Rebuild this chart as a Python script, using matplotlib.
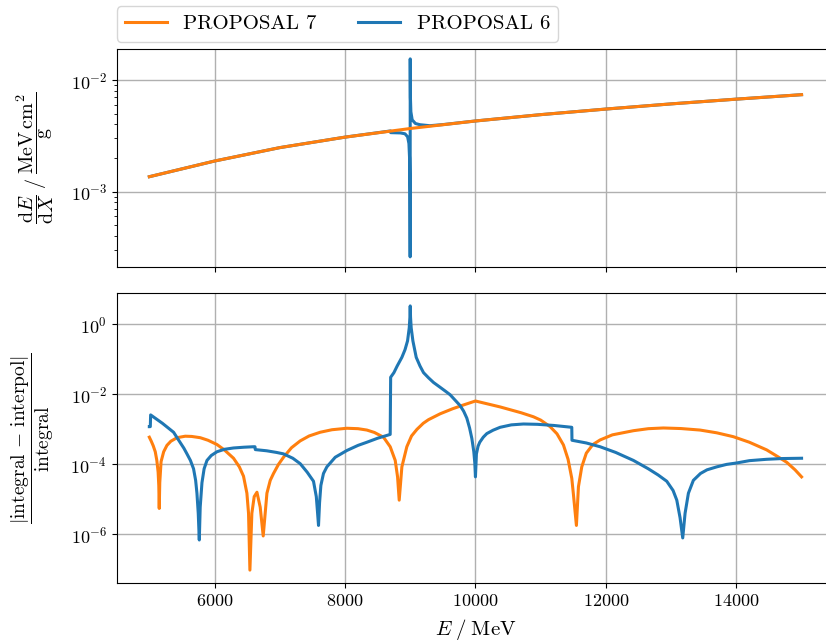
import numpy as np
import matplotlib
matplotlib.use("Agg")
import matplotlib.pyplot as plt
from matplotlib.ticker import NullLocator

plt.rcParams['font.family'] = 'serif'
plt.rcParams['font.serif'] = ['cmr10', 'DejaVu Serif']
plt.rcParams['mathtext.fontset'] = 'cm'
plt.rcParams['axes.formatter.use_mathtext'] = True
plt.rcParams['font.size'] = 13

C7 = '#ff7f0e'
C6 = '#1f77b4'

# energy loss dE/dX, PROPOSAL 7
E_top7 = [5000, 6000, 7000, 8000, 9000, 10000, 11000, 12000, 13000, 14000, 15000]
dedx7 = [1.36e-3, 1.88e-3, 2.48e-3, 3.08e-3, 3.68e-3, 4.30e-3, 4.90e-3, 5.50e-3,
         6.12e-3, 6.75e-3, 7.40e-3]

# energy loss dE/dX, PROPOSAL 6 (glitch at 9000 MeV)
E_top6 = [5000, 6000, 7000, 8000, 8699, 8700, 8850, 8920, 8960, 8980, 8990, 8996,
          8999, 9000, 9003, 9010, 9030, 9080, 9150, 9300, 9500, 10000, 11000,
          12000, 13000, 14000, 15000]
dedx6 = [1.36e-3, 1.88e-3, 2.48e-3, 3.08e-3, 3.50e-3, 3.38e-3, 3.36e-3, 3.30e-3,
         3.10e-3, 2.70e-3, 2.00e-3, 1.00e-3, 2.60e-4, 1.55e-2, 7.00e-3, 5.20e-3,
         4.40e-3, 4.08e-3, 3.98e-3, 3.90e-3, 3.99e-3, 4.30e-3, 4.90e-3, 5.50e-3,
         6.12e-3, 6.75e-3, 7.40e-3]

# relative deviation |integral - interpol| / integral, PROPOSAL 7
E_err7 = [5000, 5030, 5060, 5091, 5115, 5135, 5145, 5152, 5160, 5180, 5220, 5270,
          5330, 5424, 5551, 5650, 5781, 5900, 6037, 6150, 6291, 6380, 6444, 6496,
          6521, 6542, 6572, 6608, 6650, 6700, 6746, 6803, 6854, 6904, 6980, 7057,
          7180, 7313, 7450, 7619, 7800, 8029, 8200, 8335, 8450, 8590, 8693, 8770,
          8806, 8831, 8872, 8948, 9020, 9102, 9200, 9280, 9459, 9650, 9816, 10000,
          10378, 10700, 10889, 11000, 11145, 11250, 11349, 11420, 11477, 11502,
          11548, 11579, 11630, 11700, 11800, 11911, 12100, 12422, 12650, 12881,
          13150, 13443, 13700, 13954, 14200, 14465, 14650, 14772, 14900, 15000]
err7 = [6.0e-4, 4.6e-4, 3.4e-4, 2.3e-4, 1.3e-4, 6.0e-5, 2.5e-5, 5.5e-6, 3.0e-5,
        1.2e-4, 2.3e-4, 3.5e-4, 4.6e-4, 5.8e-4, 6.4e-4, 6.3e-4, 5.8e-4, 4.9e-4,
        3.7e-4, 2.6e-4, 1.5e-4, 8.5e-5, 4.6e-5, 1.5e-5, 4.0e-6, 9.5e-8, 4.0e-6,
        1.2e-5, 1.6e-5, 6.0e-6, 9.0e-7, 1.5e-5, 3.5e-5, 5.5e-5, 1.0e-4, 1.6e-4,
        3.0e-4, 4.7e-4, 6.5e-4, 8.3e-4, 9.8e-4, 1.08e-3, 1.05e-3, 9.6e-4, 8.2e-4,
        6.0e-4, 3.2e-4, 1.3e-4, 4.4e-5, 9.5e-6, 8.5e-5, 3.2e-4, 6.5e-4, 1.0e-3,
        1.5e-3, 1.9e-3, 2.8e-3, 3.9e-3, 5.0e-3, 6.5e-3, 4.4e-3, 3.0e-3, 2.3e-3,
        1.85e-3, 1.2e-3, 7.5e-4, 3.6e-4, 1.4e-4, 4.0e-5, 1.4e-5, 1.8e-6, 2.3e-5,
        8.5e-5, 2.1e-4, 3.7e-4, 5.0e-4, 7.0e-4, 9.2e-4, 1.05e-3, 1.1e-3, 1.06e-3,
        9.6e-4, 8.0e-4, 6.2e-4, 4.3e-4, 2.6e-4, 1.6e-4, 1.15e-4, 7.0e-5, 4.4e-5]

# relative deviation |integral - interpol| / integral, PROPOSAL 6
E_err6 = [5000, 5015, 5020, 5200, 5372, 5474, 5530, 5577, 5630, 5678, 5710, 5730,
          5750, 5766, 5780, 5807, 5840, 5884, 5950, 6037, 6150, 6291, 6450, 6598,
          6620, 6625, 6800, 6950, 7057, 7200, 7313, 7420, 7517, 7560, 7580, 7594,
          7610, 7630, 7670, 7722, 7850, 8029, 8200, 8335, 8500, 8693, 8700, 8750,
          8800, 8872, 8920, 8959, 8985, 8995, 9000, 9005, 9015, 9041, 9092, 9150,
          9204, 9280, 9357, 9459, 9550, 9612, 9700, 9765, 9820, 9868, 9910, 9945,
          9975, 9990, 10000, 10015, 10040, 10066, 10120, 10174, 10270, 10378,
          10550, 10736, 10950, 11200, 11477, 11480, 11700, 11911, 12150, 12422,
          12650, 12800, 12933, 13030, 13087, 13137, 13178, 13214, 13265, 13341,
          13450, 13550, 13699, 13850, 14006, 14200, 14465, 14700, 15000]
err6 = [1.2e-3, 1.2e-3, 2.6e-3, 1.5e-3, 8.3e-4, 4.2e-4, 2.9e-4, 2.0e-4, 1.3e-4,
        7.5e-5, 3.5e-5, 1.5e-5, 4.0e-6, 6.9e-7, 6.0e-6, 3.0e-5, 7.5e-5, 1.3e-4,
        1.8e-4, 2.3e-4, 2.7e-4, 2.95e-4, 3.1e-4, 3.2e-4, 3.2e-4, 2.65e-4, 2.45e-4,
        2.2e-4, 2.0e-4, 1.5e-4, 1.05e-4, 6.0e-5, 3.3e-5, 1.2e-5, 4.0e-6, 1.8e-6,
        8.0e-6, 2.5e-5, 5.5e-5, 8.5e-5, 1.6e-4, 2.5e-4, 3.5e-4, 4.3e-4, 5.6e-4,
        7.2e-4, 3.1e-2, 4.2e-2, 6.5e-2, 0.115, 0.19, 0.34, 0.8, 1.6, 3.4, 1.6, 0.8,
        0.34, 0.115, 0.065, 0.042, 0.03, 0.022, 0.016, 0.012, 9.8e-3, 6.5e-3,
        4.8e-3, 3.3e-3, 2.1e-3, 1.1e-3, 5.5e-4, 2.3e-4, 1.1e-4, 4.4e-5, 2.0e-4,
        3.3e-4, 4.3e-4, 6.0e-4, 7.6e-4, 9.5e-4, 1.15e-3, 1.35e-3, 1.43e-3, 1.4e-3,
        1.3e-3, 1.15e-3, 4.9e-4, 4.1e-4, 3.2e-4, 2.2e-4, 1.3e-4, 7.5e-5, 5.0e-5,
        3.3e-5, 1.8e-5, 9.5e-6, 3.0e-6, 7.9e-7, 4.0e-6, 1.5e-5, 3.5e-5, 5.5e-5,
        7.0e-5, 8.5e-5, 1.0e-4, 1.1e-4, 1.28e-4, 1.4e-4, 1.47e-4, 1.5e-4]

fig, (ax1, ax2) = plt.subplots(2, 1, sharex=True, figsize=(8.26, 6.43), dpi=100)
ax1.set_position([0.1413, 0.5852, 0.8686, 0.3386])
ax2.set_position([0.1413, 0.0928, 0.8686, 0.4520])

l6, = ax1.plot(E_top6, dedx6, color=C6, lw=2.2, label='PROPOSAL 6')
l7, = ax1.plot(E_top7, dedx7, color=C7, lw=2.2, label='PROPOSAL 7')
ax1.set_yscale('log')
ax1.grid(True, color='#b0b0b0', lw=1.0)
ax1.set_ylabel(r'$\dfrac{\mathrm{d}E}{\mathrm{d}X}\;/\;\dfrac{\mathrm{MeV}\,\mathrm{cm}^2}{\mathrm{g}}$',
               fontsize=14.5)

ax2.plot(E_err7, err7, color=C7, lw=2.2)
ax2.plot(E_err6, err6, color=C6, lw=2.2)
ax2.set_yscale('log')
ax2.set_yticks([1e0, 1e-2, 1e-4, 1e-6])
ax2.yaxis.set_minor_locator(NullLocator())
ax2.grid(True, color='#b0b0b0', lw=1.0)
ax2.set_ylabel(r'$\dfrac{|\mathrm{integral}\,-\,\mathrm{interpol}|}{\mathrm{integral}}$',
               fontsize=14)
ax2.set_xlabel(r'$E\;/\;\mathrm{MeV}$', fontsize=15, labelpad=6)
ax2.set_xticks([6000, 8000, 10000, 12000, 14000])

for ax in (ax1, ax2):
    ax.yaxis.set_label_coords(-0.085, 0.5)

ax1.legend(handles=[l7, l6], loc='lower left', bbox_to_anchor=(0, 1.034),
           borderaxespad=0, ncol=2, fontsize=15)

fig.savefig('out.png', dpi=100)
